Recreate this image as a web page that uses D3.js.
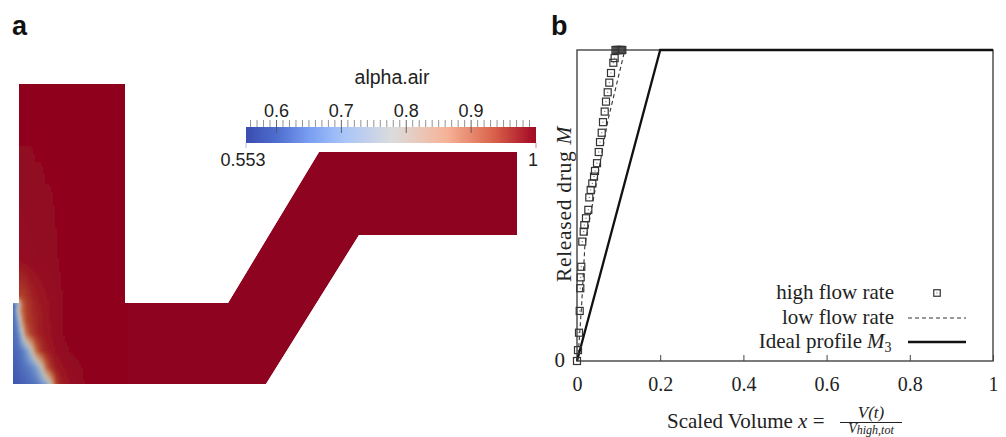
<!DOCTYPE html>
<html>
<head>
<meta charset="utf-8">
<script src="https://cdn.jsdelivr.net/npm/d3@7"></script>
<style>
  html, body { margin: 0; padding: 0; background: #fff; overflow: hidden; }
  .serif { font-family: "Liberation Serif", serif; fill: #222; }
  .panel { font-family: "Liberation Sans", sans-serif; font-weight: bold; font-size: 27px; fill: #111; }
  .bar-label { font-family: "Liberation Sans", sans-serif; font-size: 18px; fill: #222; }
</style>
</head>
<body>
<div id="chart"></div>
<script>
// Panel b data
const highFlowX = [0, 0.0024, 0.0048, 0.0065, 0.0079, 0.0089, 0.0103, 0.0127, 0.0161, 0.0175, 0.0216, 0.0272, 0.0296, 0.0329, 0.0368, 0.0409, 0.0433, 0.0481, 0.0522, 0.0553, 0.0594, 0.0625, 0.0666, 0.0697, 0.0738, 0.0776, 0.0817, 0.0873, 0.0905, 0.0925, 0.095, 0.0975, 0.1, 0.1025, 0.105, 0.107, 0.109];
const highFlowY = [0, 0.035, 0.091, 0.161, 0.234, 0.269, 0.303, 0.384, 0.416, 0.437, 0.459, 0.486, 0.526, 0.55, 0.571, 0.593, 0.611, 0.636, 0.672, 0.704, 0.734, 0.768, 0.802, 0.834, 0.864, 0.895, 0.926, 0.959, 0.974, 1, 1, 1, 1, 1, 1, 1, 1];
const lowFlowX = [0, 0.0032, 0.011, 0.019, 0.0745, 0.115];
const lowFlowY = [0, 0.026, 0.177, 0.373, 0.775, 1];
const idealX = [0, 0.2, 1];
const idealY = [0, 1, 1];
const xTicks = [0, 0.2, 0.4, 0.6, 0.8, 1];

// Panel a data: channel outline and alpha.air samples, in image units
const channelX = [19, 125, 125, 228, 319, 517, 517, 359, 266, 13, 13, 19];
const channelY = [84, 84, 303, 303, 152, 152, 235, 235, 384, 384, 303, 303];
const fieldColsX = [13, 17, 21, 25, 30, 35, 40, 45, 50, 55, 60, 70, 85, 125];
const fieldRowsY = [84, 180, 260, 295, 303, 310, 320, 333, 350, 367, 384];
const fieldValues = [
  [0.999, 0.999, 0.999, 0.999, 0.999, 0.999, 0.999, 0.999, 0.999, 0.999, 0.999, 0.999, 0.999, 1],
  [0.994, 0.994, 0.994, 0.994, 0.994, 0.995, 0.995, 0.996, 0.996, 0.997, 0.997, 0.998, 1, 1],
  [0.985, 0.985, 0.985, 0.987, 0.989, 0.99, 0.991, 0.992, 0.993, 0.995, 0.997, 1, 1, 1],
  [0.93, 0.93, 0.93, 0.94, 0.96, 0.97, 0.978, 0.982, 0.985, 0.99, 0.995, 1, 1, 1],
  [0.6, 0.72, 0.88, 0.93, 0.95, 0.965, 0.975, 0.98, 0.985, 0.99, 0.995, 1, 1, 1],
  [0.6, 0.76, 0.88, 0.925, 0.95, 0.962, 0.972, 0.98, 0.985, 0.99, 0.995, 1, 1, 1],
  [0.6, 0.68, 0.84, 0.92, 0.945, 0.96, 0.97, 0.978, 0.984, 0.99, 0.995, 1, 1, 1],
  [0.6, 0.63, 0.74, 0.87, 0.93, 0.955, 0.97, 0.977, 0.983, 0.99, 0.995, 1, 1, 1],
  [0.59, 0.6, 0.62, 0.66, 0.75, 0.88, 0.94, 0.965, 0.975, 0.985, 0.99, 0.997, 1, 1],
  [0.575, 0.585, 0.6, 0.61, 0.63, 0.67, 0.75, 0.88, 0.945, 0.97, 0.98, 0.99, 0.998, 1],
  [0.565, 0.57, 0.58, 0.59, 0.6, 0.61, 0.64, 0.68, 0.77, 0.92, 0.965, 0.985, 0.997, 1]
];
const barMajorTicks = [0.6, 0.7, 0.8, 0.9];
const barDomain = [0.553, 0.6, 0.65, 0.7, 0.77, 0.85, 0.92, 0.975, 1];
const barColors = ['#3a4cb0', '#4f6fd0', '#7da2f4', '#aac6f8', '#dcdcdc', '#f6b397', '#d9614a', '#a81028', '#8e031f'];
// the shaded surface reads more muted than the bar
const fieldColors = ['#3c50a8', '#4e6cbc', '#6e8ec8', '#8fa8cc', '#c0bcb0', '#c98a68', '#b4482f', '#9c1822', '#8e031f'];

const width = 1006, height = 437;
const svg = d3.select('#chart').append('svg').attr('width', width).attr('height', height);
const defs = svg.append('defs');

const alphaColor = d3.scaleLinear().domain(barDomain).range(barColors).clamp(true);
const fieldColor = d3.scaleLinear().domain(barDomain).range(fieldColors).clamp(true);

// ---- Panel a ----
const channelPath = d3.line();
const channelPoints = channelX.map((x, i) => [x, channelY[i]]);

defs.append('clipPath').attr('id', 'channel-clip')
  .append('path').attr('d', channelPath(channelPoints) + 'Z');
const blur = defs.append('filter').attr('id', 'soften').attr('x', '-5%').attr('y', '-5%').attr('width', '110%').attr('height', '110%');
blur.append('feGaussianBlur').attr('stdDeviation', 1.2);

const panelA = svg.append('g').attr('clip-path', 'url(#channel-clip)');
panelA.append('path').attr('d', channelPath(channelPoints) + 'Z').attr('fill', fieldColor(1));

// Field is drawn as fine cells read bilinearly between the samples
const colIndex = d3.scaleLinear().domain(fieldColsX).range(fieldColsX.map((d, i) => i)).clamp(true);
const rowIndex = d3.scaleLinear().domain(fieldRowsY).range(fieldRowsY.map((d, i) => i)).clamp(true);
function sampleField(x, y) {
  const cf = colIndex(x), rf = rowIndex(y);
  const c0 = Math.min(Math.floor(cf), fieldColsX.length - 2), r0 = Math.min(Math.floor(rf), fieldRowsY.length - 2);
  const top = d3.interpolateNumber(fieldValues[r0][c0], fieldValues[r0][c0 + 1])(cf - c0);
  const bottom = d3.interpolateNumber(fieldValues[r0 + 1][c0], fieldValues[r0 + 1][c0 + 1])(cf - c0);
  return d3.interpolateNumber(top, bottom)(rf - r0);
}
const cellSize = 2;
const cells = d3.cross(d3.range(11, 127, cellSize), d3.range(82, 388, cellSize));
panelA.append('g').attr('filter', 'url(#soften)')
  .selectAll('rect').data(cells).enter().append('rect')
  .attr('x', d => d[0]).attr('y', d => d[1])
  .attr('width', cellSize + 0.5).attr('height', cellSize + 0.5)
  .attr('fill', d => fieldColor(sampleField(d[0], d[1])));

svg.append('text').attr('class', 'panel').attr('x', 12).attr('y', 35).text('a');
svg.append('text').attr('class', 'panel').attr('x', 551).attr('y', 35).text('b');

// Colour bar
const barX = d3.scaleLinear().domain([0.553, 1]).range([246, 536]);
const barTop = 127, barBottom = 143;
const gradient = defs.append('linearGradient').attr('id', 'bar-gradient');
gradient.selectAll('stop').data(d3.range(0, 1.001, 0.02)).enter().append('stop')
  .attr('offset', d => d)
  .attr('stop-color', d => alphaColor(0.553 + d * 0.447 * 0.96));
svg.append('rect').attr('x', barX(0.553)).attr('y', barTop)
  .attr('width', barX(1) - barX(0.553)).attr('height', barBottom - barTop)
  .attr('fill', 'url(#bar-gradient)');
svg.append('g').selectAll('line').data(d3.range(56, 100).map(d => d / 100)).enter().append('line')
  .attr('x1', d => barX(d)).attr('x2', d => barX(d))
  .attr('y1', 120)
  .attr('y2', d => barMajorTicks.includes(d) ? 133 : barTop)
  .attr('stroke', d => barMajorTicks.includes(d) ? '#555' : '#888').attr('stroke-width', 0.9);
svg.append('g').selectAll('text').data(barMajorTicks).enter().append('text')
  .attr('class', 'bar-label').attr('x', d => barX(d)).attr('y', 117).attr('text-anchor', 'middle')
  .text(d => d3.format('.1f')(d));
svg.append('text').attr('class', 'bar-label').attr('x', 392).attr('y', 84).attr('text-anchor', 'middle')
  .style('font-size', '19.5px').text('alpha.air');
svg.append('text').attr('class', 'bar-label').attr('x', 243).attr('y', 166).attr('text-anchor', 'middle').text('0.553');
svg.append('text').attr('class', 'bar-label').attr('x', 533).attr('y', 166).attr('text-anchor', 'middle').text('1');
svg.append('line').attr('x1', barX(0.553)).attr('x2', barX(0.553)).attr('y1', barBottom).attr('y2', 148).attr('stroke', '#aac0f0');
svg.append('line').attr('x1', barX(1)).attr('x2', barX(1)).attr('y1', barBottom).attr('y2', 148).attr('stroke', '#e08090');

// ---- Panel b ----
const x = d3.scaleLinear().domain([0, 1]).range([577, 993]);
const y = d3.scaleLinear().domain([0, 1]).range([361, 50]);
const plot = svg.append('g');

plot.append('rect').attr('x', x(0)).attr('y', y(1))
  .attr('width', x(1) - x(0)).attr('height', y(0) - y(1))
  .attr('fill', 'none').attr('stroke', '#444').attr('stroke-width', 1.4);

const xAxis = d3.axisBottom(x).tickValues(xTicks).tickSize(-6).tickPadding(16)
  .tickFormat(d => d === 0 || d === 1 ? String(d) : d3.format('.1f')(d));
const xAxisG = plot.append('g').attr('transform', `translate(0,${y(0)})`).call(xAxis);
xAxisG.select('.domain').remove();
xAxisG.selectAll('line').attr('stroke', '#444');
xAxisG.selectAll('text').attr('class', 'serif').attr('font-size', 20).attr('fill', '#222');

const curve = d3.line().x(d => x(d[0])).y(d => y(d[1]));
plot.append('path').datum(idealX.map((d, i) => [d, idealY[i]]))
  .attr('d', curve).attr('fill', 'none').attr('stroke', '#111').attr('stroke-width', 2.3);
plot.append('path').datum(lowFlowX.map((d, i) => [d, lowFlowY[i]]))
  .attr('d', curve).attr('fill', 'none').attr('stroke', '#333').attr('stroke-width', 1.1).attr('stroke-dasharray', '4 3');

function drawMarker(sel, size) {
  sel.append('rect').attr('x', -size / 2).attr('y', -size / 2).attr('width', size).attr('height', size)
    .attr('fill', 'none').attr('stroke', '#333').attr('stroke-width', 1.2);
  sel.append('rect').attr('x', -0.5).attr('y', -0.5).attr('width', 1).attr('height', 1).attr('fill', '#555');
}
plot.append('g').selectAll('g').data(highFlowX.map((d, i) => [d, highFlowY[i]])).enter().append('g')
  .attr('transform', d => `translate(${x(d[0])},${y(d[1])})`)
  .call(drawMarker, 7);

plot.append('text').attr('class', 'serif').attr('x', 565).attr('y', y(0) + 6).attr('text-anchor', 'end')
  .attr('font-size', 21).text('0');

const yTitle = plot.append('text').attr('class', 'serif').attr('font-size', 21.5)
  .attr('letter-spacing', 0.7).attr('text-anchor', 'middle')
  .attr('transform', 'translate(571,204) rotate(-90)');
yTitle.append('tspan').text('Released drug ');
yTitle.append('tspan').attr('font-style', 'italic').text('M');

// Legend
const legendNames = ['high flow rate', 'low flow rate', 'Ideal profile'];
const legendY = [293, 318, 342];
plot.append('g').selectAll('text').data(legendNames).enter().append('text')
  .attr('class', 'serif').attr('font-size', 21).attr('text-anchor', 'end')
  .attr('x', (d, i) => i === 2 ? 862 : 894).attr('y', (d, i) => legendY[i] + 6).text(d => d);
const m3 = plot.append('text').attr('class', 'serif').attr('font-size', 21).attr('x', 867).attr('y', legendY[2] + 6);
m3.append('tspan').attr('font-style', 'italic').text('M');
m3.append('tspan').attr('font-size', 14).attr('dy', 4).text('3');

plot.append('g').attr('transform', `translate(937,${legendY[0]})`).call(drawMarker, 6.5);
plot.append('line').attr('x1', 908).attr('x2', 966).attr('y1', legendY[1]).attr('y2', legendY[1])
  .attr('stroke', '#333').attr('stroke-width', 1).attr('stroke-dasharray', '4 3');
plot.append('line').attr('x1', 908).attr('x2', 966).attr('y1', legendY[2]).attr('y2', legendY[2])
  .attr('stroke', '#111').attr('stroke-width', 2.3);

// X title with its fraction
const xTitle = plot.append('text').attr('class', 'serif').attr('font-size', 21).attr('x', 667).attr('y', 428);
xTitle.append('tspan').text('Scaled Volume ');
xTitle.append('tspan').attr('font-style', 'italic').text('x');
xTitle.append('tspan').text(' =');
plot.append('line').attr('x1', 840).attr('x2', 902).attr('y1', 422.5).attr('y2', 422.5).attr('stroke', '#222').attr('stroke-width', 1);
plot.append('text').attr('class', 'serif').attr('font-size', 17).attr('font-style', 'italic')
  .attr('x', 871).attr('y', 418).attr('text-anchor', 'middle').text('V(t)');
const denom = plot.append('text').attr('class', 'serif').attr('font-size', 14).attr('font-style', 'italic')
  .attr('x', 871).attr('y', 433).attr('text-anchor', 'middle');
denom.append('tspan').text('V');
denom.append('tspan').attr('font-size', 12).attr('dy', 1).text('high,tot');
</script>
</body>
</html>
